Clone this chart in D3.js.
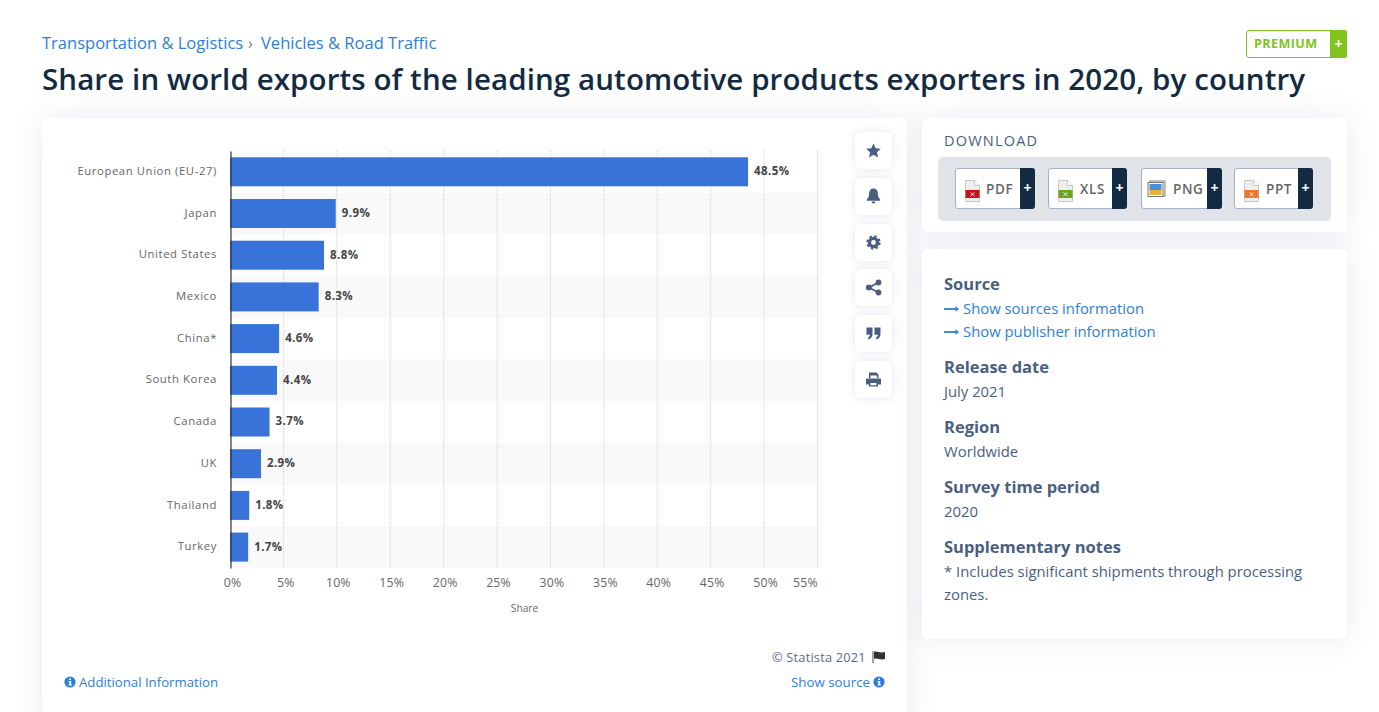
<!DOCTYPE html>
<html>
<head>
<meta charset="utf-8">
<script src="https://cdnjs.cloudflare.com/ajax/libs/d3/7.8.5/d3.min.js"></script>
<style>
html, body { margin: 0; padding: 0; background: #fff; overflow: hidden; }
body { width: 1379px; height: 712px; position: relative; font-family: "Open Sans", sans-serif; }
.abs { position: absolute; white-space: nowrap; }
.card { position: absolute; background: #fff; border-radius: 6px; box-shadow: 0 0 30px rgba(80, 100, 140, 0.13); }
.tool { position: absolute; left: 855px; width: 37px; height: 37px; background: #fff; border-radius: 6px; box-shadow: 0 0 8px rgba(80, 100, 140, 0.16); }
.tool svg { position: absolute; left: 0; top: 0; }
.head { color: #4a5f7f; font-weight: 700; font-size: 16.5px; }
.val { color: #4a5f7f; font-size: 14.85px; }
.link { color: #2f7ed8; }
svg text { font-family: "Open Sans", sans-serif; }
.btn { position: absolute; top: 168px; height: 41px; box-sizing: border-box; background: #fff; border: 1px solid #a3b2c8; border-radius: 3px; }
.btn .plus { position: absolute; right: -1px; top: -1px; height: 41px; background: #132a43; color: #fff; font-weight: 700; font-size: 14px; text-align: center; line-height: 39px; border-radius: 0 3px 3px 0; }
.btn .lbl { position: absolute; top: 11px; font-size: 13.5px; font-weight: 600; color: #666; letter-spacing: 0.6px; line-height: 18px; }
.btn svg { position: absolute; left: 0; top: 0; }
</style>
</head>
<body>
<div class="abs link" style="left:42px;top:32px;font-size:16.55px;line-height:22px">Transportation &amp; Logistics</div>
<div class="abs" style="left:248px;top:32px;font-size:16px;line-height:22px;color:#6a7a90">›</div>
<div class="abs link" style="left:261px;top:32px;font-size:16.55px;line-height:22px">Vehicles &amp; Road Traffic</div>
<div class="abs" style="left:42px;top:58px;font-size:29.5px;line-height:42px;font-weight:600;color:#132a43;letter-spacing:0.1px" id="title">Share in world exports of the leading automotive products exporters in 2020, by country</div>

<div class="abs" style="left:1246px;top:30px;width:101px;height:28px;box-sizing:border-box;border:1px solid #7fc31c;border-radius:3px;background:#fff"></div>
<div class="abs" style="left:1330px;top:30px;width:17px;height:28px;background:#7fc31c;border-radius:0 3px 3px 0;color:#fff;font-weight:700;font-size:14px;text-align:center;line-height:27px">+</div>
<div class="abs" style="left:1254px;top:35px;font-size:12.6px;line-height:18px;font-weight:700;color:#7fc31c;letter-spacing:0.4px">PREMIUM</div>

<div class="card" style="left:42px;top:118px;width:865px;height:620px"></div>
<div class="card" style="left:922px;top:118px;width:425px;height:114px"></div>
<div class="card" style="left:922px;top:249px;width:425px;height:390px"></div>

<svg id="chart" width="1379" height="712" style="position:absolute;left:0;top:0"></svg>

<div id="tools"></div>

<div class="abs" style="left:944px;top:131px;font-size:14.5px;line-height:20px;font-weight:500;color:#4a5f7f;letter-spacing:1.2px">DOWNLOAD</div>
<div class="abs" style="left:938px;top:157px;width:393px;height:64px;background:#e0e4e8;border-radius:5px"></div>
<div id="buttons"></div>

<div id="side"></div>

<div class="abs" style="left:772px;top:648px;font-size:12.8px;line-height:18px;color:#5b6b82;letter-spacing:0.2px">© Statista 2021</div>
<svg class="abs" style="left:871px;top:650px" width="15" height="14"><path d="M2 1V13" stroke="#888" stroke-width="1.5"/><path d="M3 2C6 0.5 8 3.5 14 2V9C9 10.5 6 7.5 3 9Z" fill="#333"/></svg>
<div class="abs link" style="left:79px;top:673px;font-size:13.2px;line-height:18px">Additional Information</div>
<div class="abs link" style="left:791px;top:673px;font-size:13.3px;line-height:18px">Show source</div>
<svg class="abs" style="left:64px;top:676px" width="12" height="12"><circle cx="6" cy="6" r="5.6" fill="#2f7ed8"/><path d="M5 2.4h2v1.7H5zM4.6 5h2.6v3.4h.9v1.2H4.4V8.4h1V6.2h-.8z" fill="#fff"/></svg>
<svg class="abs" style="left:873px;top:676px" width="12" height="12"><circle cx="6" cy="6" r="5.6" fill="#2f7ed8"/><path d="M5 2.4h2v1.7H5zM4.6 5h2.6v3.4h.9v1.2H4.4V8.4h1V6.2h-.8z" fill="#fff"/></svg>

<script>
// chart values
const countries = ["European Union (EU-27)", "Japan", "United States", "Mexico", "China*", "South Korea", "Canada", "UK", "Thailand", "Turkey"];
const shares = [48.5, 9.9, 8.8, 8.3, 4.6, 4.4, 3.7, 2.9, 1.8, 1.7];
const ticks = [0, 5, 10, 15, 20, 25, 30, 35, 40, 45, 50, 55];
const xLabel = "Share";

const x = d3.scaleLinear().domain([0, 55]).range([230, 817.5]);
const y = d3.scaleBand().domain(countries).range([151, 568]);

const svg = d3.select("#chart");

// Stripes behind the rows
svg.append("g").selectAll("rect")
    .data(countries.filter((d, i) => i % 2 === 1))
    .join("rect")
    .attr("x", x(0))
    .attr("y", d => y(d))
    .attr("width", x(55) - x(0))
    .attr("height", y.bandwidth())
    .attr("fill", "#f9f9f9");

// Dotted grid lines
svg.append("g").selectAll("line")
    .data(ticks.slice(1))
    .join("line")
    .attr("x1", d => x(d))
    .attr("x2", d => x(d))
    .attr("y1", 151)
    .attr("y2", 568)
    .attr("stroke", "#cfcfcf")
    .attr("stroke-dasharray", "1,1");

// Bars
svg.append("g").selectAll("rect")
    .data(countries)
    .join("rect")
    .attr("x", x(0))
    .attr("y", d => y(d) + 6.3)
    .attr("width", (d, i) => x(shares[i]) - x(0))
    .attr("height", 29)
    .attr("fill", "#3873da");

// Value labels
svg.append("g").selectAll("text")
    .data(countries)
    .join("text")
    .attr("x", (d, i) => x(shares[i]) + 6)
    .attr("y", d => y(d) + y.bandwidth() / 2 + 3.4)
    .attr("font-size", 11.5)
    .attr("font-weight", 700)
    .attr("fill", "#444")
    .style("letter-spacing", "0.4px")
    .text((d, i) => shares[i].toFixed(1) + "%");

// Category axis
const yAxis = svg.append("g")
    .attr("transform", "translate(230.5,0)")
    .call(d3.axisLeft(y).tickSize(0).tickPadding(13.5));
yAxis.select(".domain").attr("stroke", "#333").attr("stroke-width", 1.2);
yAxis.selectAll("text")
    .attr("font-size", 11.3)
    .attr("font-family", "Open Sans")
    .attr("fill", "#666")
    .attr("y", -0.5)
    .style("letter-spacing", "0.6px");

// Value axis, the last label is pulled in so it ends on its grid line
const xAxis = svg.append("g")
    .attr("transform", "translate(0,568)")
    .call(d3.axisBottom(x).tickValues(ticks).tickFormat(d => d + "%").tickSize(0).tickPadding(10));
xAxis.select(".domain").remove();
xAxis.selectAll("text")
    .attr("font-size", 12.3)
    .attr("font-family", "Open Sans")
    .attr("fill", "#666")
    .style("letter-spacing", "0.2px")
    .attr("dx", d => d === 55 ? -12.5 : d < 10 ? 2 : 1);

svg.append("text")
    .attr("x", 524.5)
    .attr("y", 612)
    .attr("text-anchor", "middle")
    .attr("font-size", 10.2)
    .attr("fill", "#666")
    .text(xLabel);

// Tool buttons on the right of the chart
const toolTops = [132, 178, 224, 269, 315, 361];
const toolIcons = [
    '<path d="M18.5 11.5l2.2 4.7 5.1.6-3.8 3.5 1 5.1-4.5-2.6-4.5 2.6 1-5.1-3.8-3.5 5.1-.6z" fill="#4a5f7f"/>',
    '<path d="M18.5 10.5c3.2 0 4.4 2.6 4.4 5.2 0 3.2 1.1 4.6 2.3 5.8v1.2H11.8v-1.2c1.2-1.2 2.3-2.6 2.3-5.8 0-2.6 1.2-5.2 4.4-5.2zM16.6 23.5h3.8c0 1.1-.9 2-1.9 2s-1.9-.9-1.9-2z" fill="#4a5f7f"/>',
    '<circle cx="18.5" cy="18.5" r="4.1" fill="none" stroke="#4a5f7f" stroke-width="3.4"/><circle cx="18.5" cy="18.5" r="6.2" fill="none" stroke="#4a5f7f" stroke-width="2" stroke-dasharray="2.4 2.47"/>',
    '<path d="M23.5 13.5L14 18.5L23.5 23.5" fill="none" stroke="#4a5f7f" stroke-width="1.8"/><circle cx="23.5" cy="13.5" r="2.9" fill="#4a5f7f"/><circle cx="13.8" cy="18.5" r="2.9" fill="#4a5f7f"/><circle cx="23.5" cy="23.5" r="2.9" fill="#4a5f7f"/>',
    '<path d="M11.5 12.5h6v6.5c0 3-1.7 4.8-4.3 5.5v-2.2c1.2-.5 1.8-1.4 1.8-2.5h-3.5zM19.5 12.5h6v6.5c0 3-1.7 4.8-4.3 5.5v-2.2c1.2-.5 1.8-1.4 1.8-2.5h-3.5z" fill="#4a5f7f"/>',
    '<path d="M14 11.5h7.5l2 2V17h-1.6v-2.6h-6.3V17H14zM12.2 17.5h12.6c.8 0 1.2.6 1.2 1.2v4.8h-3v2h-9v-2h-3v-4.8c0-.6.4-1.2 1.2-1.2zM15.5 22v2.2h6V22z" fill="#4a5f7f"/>'
];
d3.select("#tools").selectAll("div")
    .data(toolTops)
    .join("div")
    .attr("class", "tool")
    .style("top", d => d + "px")
    .html((d, i) => '<svg width="37" height="37">' + toolIcons[i] + '</svg>');

// Download buttons
const fileTypes = ["PDF", "XLS", "PNG", "PPT"];
const fileColors = ["#c8101c", "#6aa61e", "#e5b23c", "#e8792a"];
const fileLeft = [955, 1048, 1141, 1234];
const fileWidth = [80, 79, 81, 79];
const plusWidth = [15, 15, 15, 15];
const labelLeft = [30, 31, 31, 31];
d3.select("#buttons").selectAll("div.btn")
    .data(fileTypes)
    .join("div")
    .attr("class", "btn")
    .style("left", (d, i) => fileLeft[i] + "px")
    .style("width", (d, i) => fileWidth[i] + "px")
    .html((d, i) => {
        const icon = d === "PNG"
            ? '<rect x="8" y="13" width="15" height="15" fill="#eee" stroke="#888"/><rect x="6" y="14.5" width="15" height="14" fill="#fff" stroke="#777"/><rect x="7.5" y="16" width="12" height="6" fill="#4a90d9"/><rect x="7.5" y="22" width="12" height="5" fill="#e5b23c"/>'
            : `<path d="M9.5 12h9l5 5v16h-14z" transform="translate(0,0.5)" fill="#eee" stroke="#bbb" stroke-width="0.8"/><path d="M18.5 12.5v5h5" fill="#fff" stroke="#bbb" stroke-width="0.8"/><rect x="9.5" y="22" width="14" height="8" fill="${fileColors[i]}"/><path d="M14.5 24.5l4 3.5M18.5 24.5l-4 3.5" stroke="#fff" stroke-width="0.9"/>`;
        return `<svg width="30" height="39" style="top:-1px">${icon}</svg><span class="lbl" style="left:${labelLeft[i]}px">${d}</span><span class="plus" style="width:${plusWidth[i]}px">+</span>`;
    });

// Details on the right
const sideItems = [
    { cls: "head", top: 273, text: "Source" },
    { cls: "val link", top: 298, left: 963, text: "Show sources information" },
    { cls: "val link", top: 321, left: 963, text: "Show publisher information" },
    { cls: "head", top: 356, text: "Release date" },
    { cls: "val", top: 381, text: "July 2021" },
    { cls: "head", top: 416, text: "Region" },
    { cls: "val", top: 441, text: "Worldwide" },
    { cls: "head", top: 476, text: "Survey time period" },
    { cls: "val", top: 501, text: "2020" },
    { cls: "head", top: 536, text: "Supplementary notes" },
    { cls: "val", top: 561, text: "* Includes significant shipments through processing" },
    { cls: "val", top: 584, text: "zones." }
];
d3.select("#side").selectAll("div")
    .data(sideItems)
    .join("div")
    .attr("class", d => "abs " + d.cls)
    .style("left", d => (d.left || 944) + "px")
    .style("top", d => d.top + "px")
    .style("line-height", "21px")
    .text(d => d.text);

// Arrows in front of the two source links
d3.select("body").selectAll("svg.arrow")
    .data([304, 327])
    .join("svg")
    .attr("class", "arrow abs")
    .style("left", "944px")
    .style("top", d => d + "px")
    .attr("width", 16)
    .attr("height", 10)
    .html('<path d="M0 5H13" stroke="#2f7ed8" stroke-width="1.8"/><path d="M11.5 2.2L15 5L11.5 7.8Z" fill="#2f7ed8"/>');
</script>
</body>
</html>
